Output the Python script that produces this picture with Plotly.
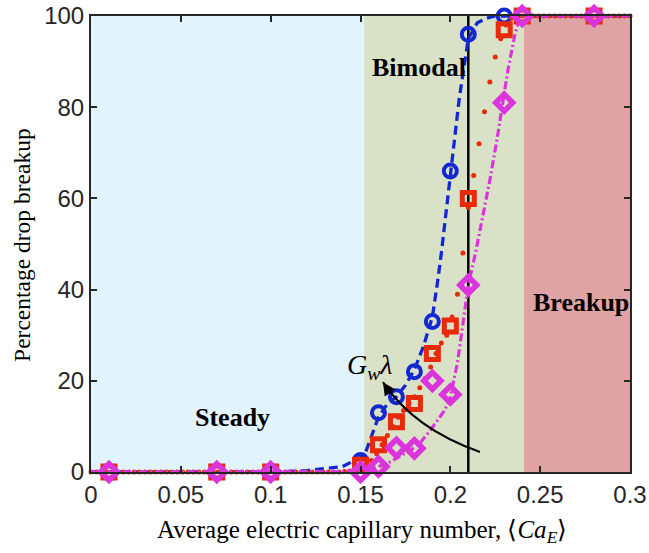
import plotly.graph_objects as go

# ---------------- data ----------------
marker_x = [0.01, 0.07, 0.10, 0.15, 0.16, 0.17, 0.18, 0.19, 0.20, 0.21, 0.23, 0.24, 0.28]
blue_pct = [0, 0, 0, 2.5, 13, 16.5, 22, 33, 66, 96, 100, 100, 100]
red_pct = [0, 0, 0, 1.5, 6, 11, 15, 26, 32, 60, 97, 100, 100]
magenta_pct = [0, 0, 0, 0, 1.2, 5.3, 5.2, 20, 17, 41, 81, 100, 100]

blue_fit_x = [0, 0.10, 0.12, 0.13, 0.14, 0.147, 0.15, 0.153, 0.156, 0.16, 0.165, 0.17,
              0.175, 0.18, 0.185, 0.19, 0.193, 0.195, 0.20, 0.205, 0.21, 0.215, 0.22,
              0.225, 0.30]
blue_fit_y = [0, 0, 0.3, 0.7, 1.2, 2.6, 3.2, 4.5, 7.7, 12, 15, 16.5,
              19, 22.5, 27.5, 34, 42, 48, 65, 82, 95, 98.5, 99.5,
              100, 100]

red_fit_x = [0.000, 0.003, 0.006, 0.009, 0.012, 0.015, 0.018, 0.021, 0.024, 0.027,
             0.030, 0.033, 0.036, 0.039, 0.042, 0.045, 0.048, 0.051, 0.054, 0.057,
             0.060, 0.063, 0.066, 0.069, 0.072, 0.075, 0.078, 0.081, 0.084, 0.087,
             0.090, 0.093, 0.096, 0.099, 0.102, 0.105, 0.108, 0.111, 0.114, 0.117,
             0.120, 0.123, 0.126, 0.129, 0.132, 0.135, 0.138, 0.141, 0.144, 0.147,
             0.150, 0.153, 0.156, 0.159, 0.162, 0.165, 0.168, 0.171, 0.174, 0.177,
             0.180, 0.183, 0.186, 0.189, 0.192, 0.195, 0.198, 0.201, 0.204, 0.207,
             0.210, 0.213, 0.216, 0.219, 0.222, 0.225, 0.228, 0.231, 0.234, 0.237,
             0.240, 0.243, 0.246, 0.249, 0.252, 0.255, 0.258, 0.261, 0.264, 0.267,
             0.270, 0.273, 0.276, 0.279, 0.282, 0.285, 0.288, 0.291, 0.294, 0.297,
             0.300]
red_fit_y = [0, 0, 0, 0, 0, 0, 0, 0, 0, 0,
             0, 0, 0, 0, 0, 0, 0, 0, 0, 0,
             0, 0, 0, 0, 0, 0, 0, 0, 0, 0,
             0, 0, 0, 0, 0, 0, 0, 0, 0, 0,
             0, 0, 0, 0, 0, 0, 0, 0.1, 0.2, 0.4,
             0.8, 1.5, 2.5, 4, 6, 8, 10, 12, 13.5, 15,
             16.5, 18.5, 20.5, 23, 26, 28.3, 30, 34, 39, 48,
             58, 65, 72, 79, 85.5, 91, 95, 98, 99.5, 100,
             100, 100, 100, 100, 100, 100, 100, 100, 100, 100,
             100, 100, 100, 100, 100, 100, 100, 100, 100, 100,
             100]

magenta_fit_x = [0, 0.13, 0.14, 0.15, 0.16, 0.165, 0.172, 0.178, 0.183, 0.189, 0.197,
                 0.20, 0.204, 0.207, 0.21, 0.214, 0.218, 0.222, 0.226, 0.229, 0.232,
                 0.236, 0.239, 0.30]
magenta_fit_y = [0, 0, 0.1, 0.4, 1.2, 1.9, 3.4, 4.8, 6.3, 9.2, 13.6,
                 16.5, 24, 33, 41, 48, 56, 64, 73, 80, 88,
                 96, 100, 100]

x_ticks = [0, 0.05, 0.1, 0.15, 0.2, 0.25, 0.3]
x_tick_text = ["0", "0.05", "0.1", "0.15", "0.2", "0.25", "0.3"]
y_ticks = [0, 20, 40, 60, 80, 100]
y_tick_text = ["0", "20", "40", "60", "80", "100"]

regions = [(0.0, 0.152, "#E1F3FC"), (0.152, 0.241, "#D9E2C6"), (0.241, 0.3, "#E0A3A3")]
threshold_x = 0.21

BLUE = "#1428D2"
RED = "#E62A0A"
MAG = "#DC34DC"

fig = go.Figure()

# blue
fig.add_trace(go.Scatter(x=blue_fit_x, y=blue_fit_y, mode="lines",
                         line=dict(color=BLUE, width=3.3, dash="9px,5px"),
                         cliponaxis=False, hoverinfo="skip", showlegend=False))
fig.add_trace(go.Scatter(x=marker_x, y=blue_pct, mode="markers",
                         marker=dict(symbol="circle-open", size=13, color=BLUE,
                                     line=dict(width=4, color=BLUE)),
                         cliponaxis=False, showlegend=False))
# red
fig.add_trace(go.Scatter(x=red_fit_x, y=red_fit_y, mode="markers",
                         marker=dict(symbol="circle", size=5, color=RED),
                         cliponaxis=False, hoverinfo="skip", showlegend=False))
fig.add_trace(go.Scatter(x=marker_x, y=red_pct, mode="markers",
                         marker=dict(symbol="square-open", size=12, color=RED,
                                     line=dict(width=5, color=RED)),
                         cliponaxis=False, showlegend=False))
# magenta
fig.add_trace(go.Scatter(x=magenta_fit_x, y=magenta_fit_y, mode="lines",
                         line=dict(color=MAG, width=3.2, dash="8px,3px,2px,3px"),
                         cliponaxis=False, hoverinfo="skip", showlegend=False))
fig.add_trace(go.Scatter(x=marker_x, y=magenta_pct, mode="markers",
                         marker=dict(symbol="diamond-open", size=13, color=MAG,
                                     line=dict(width=5.5, color=MAG)),
                         cliponaxis=False, showlegend=False))

shapes = []
for x0, x1, c in regions:
    shapes.append(dict(type="rect", xref="x", yref="y", x0=x0, x1=x1, y0=0, y1=100,
                       fillcolor=c, line=dict(width=0), layer="below"))
shapes.append(dict(type="line", xref="x", yref="y", x0=threshold_x, x1=threshold_x,
                   y0=0, y1=100, line=dict(color="#000000", width=2.5), layer="below"))
# curved arrow
shapes.append(dict(type="path", xref="x", yref="y",
                   path="M 0.2165,4.4 Q 0.180,9.4 0.1625,19.7",
                   line=dict(color="black", width=2)))

serif = "Liberation Serif"
annotations = [
    dict(x=0.1625, y=19.7, xref="x", yref="y", text="", showarrow=True,
         ax=7, ay=10.5, arrowhead=2, arrowsize=1.3, arrowwidth=2, arrowcolor="black"),
    dict(x=0.079, y=12, xref="x", yref="y", text="<b>Steady</b>", showarrow=False,
         font=dict(family=serif, size=26, color="black")),
    dict(x=0.1825, y=88.6, xref="x", yref="y", text="<b>Bimodal</b>", showarrow=False,
         font=dict(family=serif, size=26, color="black")),
    dict(x=0.273, y=37.2, xref="x", yref="y", text="<b>Breakup</b>", showarrow=False,
         font=dict(family=serif, size=26, color="black")),
    dict(x=0.155, y=23.2, xref="x", yref="y",
         text="<i>G</i><sub><i>w</i></sub><i>λ</i>", showarrow=False,
         font=dict(family=serif, size=28, color="black")),
    dict(x=0.503, y=-0.131, xref="paper", yref="paper", xanchor="center", yanchor="middle",
         text="Average electric capillary number, ⟨<i>Ca</i><sub><i>E</i></sub>⟩",
         showarrow=False, font=dict(family=serif, size=25, color="black")),
    dict(x=-0.128, y=0.498, xref="paper", yref="paper", xanchor="center", yanchor="middle",
         textangle=-90, text="Percentage drop breakup",
         showarrow=False, font=dict(family=serif, size=23.5, color="black")),
]

axis_common = dict(showgrid=False, zeroline=False, showline=True, linecolor="#262626",
                   linewidth=2, mirror="ticks", ticks="inside", ticklen=6, tickwidth=1.5,
                   tickcolor="#262626", automargin=False,
                   tickfont=dict(family="Liberation Sans", size=24, color="#262626"))

fig.update_layout(
    width=649, height=553,
    margin=dict(l=91, r=19, t=16, b=81),
    paper_bgcolor="white", plot_bgcolor="white",
    shapes=shapes, annotations=annotations,
    xaxis=dict(range=[0, 0.3], tickvals=x_ticks, ticktext=x_tick_text, **axis_common),
    yaxis=dict(range=[0, 100], tickvals=y_ticks, ticktext=y_tick_text, **axis_common),
    showlegend=False,
)

fig.write_html("out.html")
